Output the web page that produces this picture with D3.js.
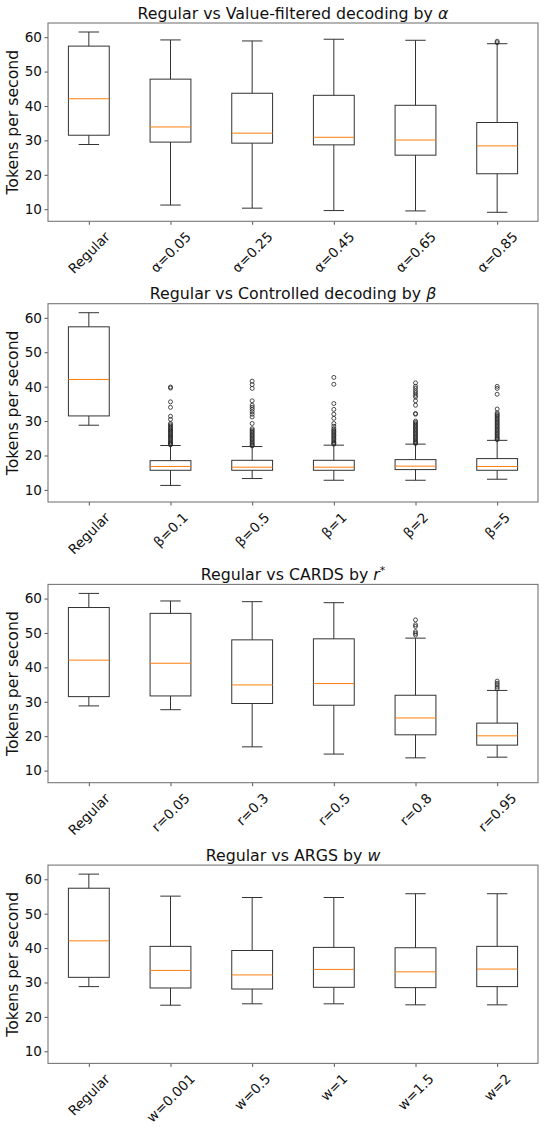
<!DOCTYPE html>
<html>
<head>
<meta charset="utf-8">
<script src="https://cdn.jsdelivr.net/npm/d3@7"></script>
<style>
  body { margin: 0; background: #fff; }
  text { font-family: "DejaVu Sans", sans-serif; fill: #111; }
</style>
</head>
<body>
<div id="chart"></div>
<script>
/* four box plot panels, tokens per second */

// stats rows are [lower whisker, q1, median, q3, upper whisker]
const regularStats = [28.8, 31.5, 42.1, 57.4, 61.5];

const alphaLabels = ["Regular", "α=0.05", "α=0.25", "α=0.45", "α=0.65", "α=0.85"];
const alphaStats = [regularStats,
  [11.2, 29.5, 33.9, 47.8, 59.2],
  [10.3, 29.2, 32.1, 43.7, 58.9],
  [9.6, 28.7, 30.9, 43.1, 59.4],
  [9.5, 25.7, 30.1, 40.2, 59.1],
  [9.1, 20.3, 28.4, 35.2, 58.1]];
const alphaFliers = [[], [], [], [], [], [58.4, 58.8]];

const betaLabels = ["Regular", "β=0.1", "β=0.5", "β=1", "β=2", "β=5"];
const betaStats = [regularStats,
  [11.3, 15.7, 16.8, 18.5, 22.9],
  [13.3, 15.7, 16.6, 18.6, 22.6],
  [12.8, 15.7, 16.6, 18.6, 23.0],
  [12.8, 15.9, 16.9, 18.8, 23.3],
  [13.1, 15.7, 16.8, 19.1, 24.4]];
const betaFliers = [[],
  [39.9, 39.6, 35.6, 34.0, 31.4, 30.5, 29.3, 28.9, 28.5, 28.1, 27.8, 27.4, 27.1, 26.7, 26.4, 26.0, 25.7, 25.3, 25.0, 24.6, 24.3, 23.9, 23.6, 23.3, 23.1],
  [41.6, 40.6, 39.5, 35.9, 34.6, 34.0, 33.4, 32.7, 32.0, 31.2, 29.3, 27.8, 27.4, 27.0, 26.6, 26.2, 25.8, 25.4, 25.0, 24.6, 24.2, 23.8, 23.4, 23.0, 22.8],
  [42.7, 40.7, 35.1, 33.4, 32.0, 30.8, 29.3, 28.5, 27.8, 27.4, 27.0, 26.6, 26.2, 25.8, 25.4, 25.0, 24.6, 24.2, 23.8, 23.5, 23.3],
  [41.1, 40.1, 39.5, 38.8, 38.2, 37.5, 37.0, 35.9, 34.6, 32.2, 32.0, 30.0, 29.6, 29.2, 28.8, 28.4, 28.0, 27.6, 27.2, 26.8, 26.4, 26.0, 25.6, 25.2, 24.8, 24.4, 24.0, 23.7, 23.5],
  [40.1, 39.5, 37.8, 33.5, 32.4, 32.0, 31.6, 31.2, 30.8, 30.4, 30.0, 29.6, 29.2, 28.8, 28.4, 28.0, 27.6, 27.2, 26.8, 26.4, 26.0, 25.6, 25.2, 24.8, 24.6]];

const rLabels = ["Regular", "r=0.05", "r=0.3", "r=0.5", "r=0.8", "r=0.95"];
const rStats = [regularStats,
  [27.7, 31.7, 41.2, 55.7, 59.3],
  [16.9, 29.5, 34.9, 48.0, 59.1],
  [14.8, 29.0, 35.3, 48.3, 58.8],
  [13.7, 20.4, 25.3, 31.9, 48.5],
  [13.9, 17.4, 20.1, 23.8, 33.3]];
const rFliers = [[], [], [], [], [53.8, 52.4, 51.9, 50.4, 49.9, 49.4], [36.0, 35.4, 34.9, 34.3, 33.8]];

const wLabels = ["Regular", "w=0.001", "w=0.5", "w=1", "w=1.5", "w=2"];
const wStats = [regularStats,
  [23.4, 28.4, 33.5, 40.5, 55.1],
  [23.8, 28.1, 32.2, 39.3, 54.7],
  [23.8, 28.6, 33.8, 40.2, 54.7],
  [23.5, 28.5, 33.1, 40.1, 55.8],
  [23.5, 28.8, 33.9, 40.5, 55.8]];
const wFliers = [[], [], [], [], [], []];

const yTicks = [10, 20, 30, 40, 50, 60];

// title parts: [plain text, math symbol, superscript]
const panels = [
  { title: ["Regular vs Value-filtered decoding by ", "α", ""], labels: alphaLabels, stats: alphaStats, fliers: alphaFliers },
  { title: ["Regular vs Controlled decoding by ", "β", ""], labels: betaLabels, stats: betaStats, fliers: betaFliers },
  { title: ["Regular vs CARDS by ", "r", "*"], labels: rLabels, stats: rStats, fliers: rFliers },
  { title: ["Regular vs ARGS by ", "w", ""], labels: wLabels, stats: wStats, fliers: wFliers }
];

const width = 546, height = 1130;
const margin = { left: 48, right: 8 };
const panelTop = 23, panelStep = 280.7, panelHeight = 198.3;

const svg = d3.select("#chart")
  .append("svg")
  .attr("width", width)
  .attr("height", height)
  .attr("viewBox", [0, 0, width, height]);

// shared y domain, matplotlib style 5% padding
let allVals = [];
panels.forEach(p => {
  p.stats.forEach(s => allVals.push(...s));
  p.fliers.forEach(f => allVals.push(...f));
});
const lo = d3.min(allVals), hi = d3.max(allVals), pad = (hi - lo) * 0.05;

panels.forEach((p, i) => {
  const top = panelTop + i * panelStep, bottom = top + panelHeight;
  const g = svg.append("g");

  let x = d3.scalePoint()
    .domain(p.labels)
    .range([margin.left, width - margin.right])
    .padding(0.5);
  let y = d3.scaleLinear()
    .domain([lo - pad, hi + pad])
    .range([bottom, top]);

  const boxW = x.step() * 0.5, capW = x.step() * 0.25;

  // y axis
  const ya = g.append("g")
    .attr("transform", `translate(${margin.left},0)`)
    .call(d3.axisLeft(y).tickValues(yTicks).tickSize(3.5).tickPadding(2.5).tickSizeOuter(0));
  ya.select(".domain").remove();
  ya.selectAll(".tick line").attr("stroke", "#555");
  ya.selectAll(".tick text").attr("font-size", 13.6).attr("fill", "#111").attr("font-family", "DejaVu Sans");

  // x axis
  const xa = g.append("g")
    .attr("transform", `translate(0,${bottom})`)
    .call(d3.axisBottom(x).tickSize(3.5).tickSizeOuter(0));
  xa.select(".domain").remove();
  xa.selectAll(".tick line").attr("stroke", "#555");
  xa.selectAll(".tick text").remove();

  p.labels.forEach(lab => {
    const t = g.append("text")
      .attr("font-size", 13.6)
      .attr("text-anchor", "middle")
      .attr("dominant-baseline", "central")
      .text(lab);
    const len = t.node().getComputedTextLength();
    const half = (len + 13.6) / (2 * Math.SQRT2);
    t.attr("transform", `translate(${x(lab)},${bottom + 8 + half}) rotate(-45)`);
  });

  // boxes
  p.labels.forEach((lab, j) => {
    const s = p.stats[j], cx = x(lab);
    const bg = g.append("g").attr("stroke", "#333").attr("stroke-width", 1).attr("fill", "none");
    bg.append("line").attr("x1", cx).attr("x2", cx).attr("y1", y(s[0])).attr("y2", y(s[1]));
    bg.append("line").attr("x1", cx).attr("x2", cx).attr("y1", y(s[3])).attr("y2", y(s[4]));
    bg.append("line").attr("x1", cx - capW / 2).attr("x2", cx + capW / 2).attr("y1", y(s[0])).attr("y2", y(s[0]));
    bg.append("line").attr("x1", cx - capW / 2).attr("x2", cx + capW / 2).attr("y1", y(s[4])).attr("y2", y(s[4]));
    bg.append("rect")
      .attr("x", cx - boxW / 2).attr("width", boxW)
      .attr("y", y(s[3])).attr("height", y(s[1]) - y(s[3]));
    g.append("line")
      .attr("x1", cx - boxW / 2).attr("x2", cx + boxW / 2)
      .attr("y1", y(s[2])).attr("y2", y(s[2]))
      .attr("stroke", "#ff7f0e").attr("stroke-width", 1);
    g.selectAll(null)
      .data(p.fliers[j])
      .join("circle")
      .attr("cx", cx)
      .attr("cy", d => y(d))
      .attr("r", 2)
      .attr("fill", "none")
      .attr("stroke", "#222")
      .attr("stroke-width", 0.8);
  });

  // frame
  g.append("rect")
    .attr("x", margin.left).attr("y", top)
    .attr("width", width - margin.right - margin.left).attr("height", panelHeight)
    .attr("fill", "none").attr("stroke", "#777").attr("stroke-width", 1.1);

  // title
  const tt = g.append("text")
    .attr("x", (margin.left + width - margin.right) / 2)
    .attr("y", top - 4.5)
    .attr("text-anchor", "middle")
    .attr("font-size", 15.8);
  tt.append("tspan").text(p.title[0]);
  tt.append("tspan").attr("font-style", "italic").text(p.title[1]);
  if (p.title[2]) {
    tt.append("tspan").attr("font-size", 11).attr("dy", -6).text(p.title[2]);
  }

  // y label
  g.append("text")
    .attr("transform", `translate(18.4,${(top + bottom) / 2}) rotate(-90)`)
    .attr("text-anchor", "middle")
    .attr("font-size", 15.7)
    .text("Tokens per second");
});
</script>
</body>
</html>
